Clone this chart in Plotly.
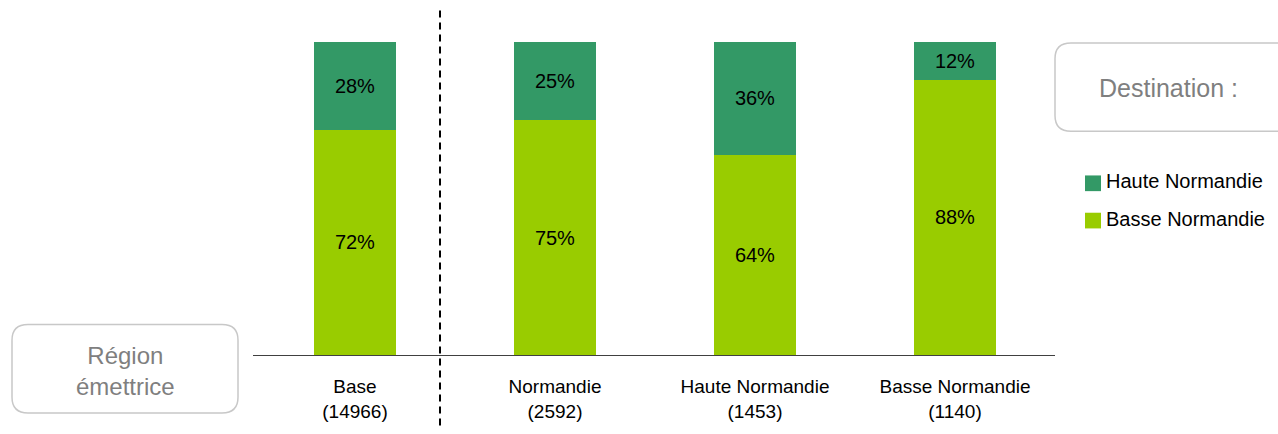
import plotly.graph_objects as go

categories = ["Base<br>(14966)", "Normandie<br>(2592)", "Haute Normandie<br>(1453)", "Basse Normandie<br>(1140)"]
basse = [72, 75, 64, 88]
haute = [28, 25, 36, 12]

DARK = "#339966"
LIGHT = "#99CC00"
GREY_TEXT = "#7F7F7F"

fig = go.Figure()

# stacked bars: Basse Normandie at the bottom
fig.add_trace(go.Bar(
    x=categories, y=basse, name="Basse Normandie",
    marker=dict(color=LIGHT, line=dict(width=0)),
    width=0.41,
    text=[f"{v}%" for v in basse], textposition="inside",
    insidetextanchor="middle", textfont=dict(color="black", size=20),
))
fig.add_trace(go.Bar(
    x=categories, y=haute, name="Haute Normandie",
    marker=dict(color=DARK, line=dict(width=0)),
    width=0.41,
    text=[f"{v}%" for v in haute], textposition="inside",
    insidetextanchor="middle", textfont=dict(color="black", size=20),
))

# plot area in page pixels: x 253..1055, y 42..361
def px(x):
    return (x - 253) / 802


def py(y):
    return (361 - y) / 319


def rounded_rect(x0, y0, x1, y1, r):
    # coordinates in page pixels, converted to paper
    rx, ry = r / 802, r / 319
    X0, X1 = px(x0), px(x1)
    Y0, Y1 = py(y1), py(y0)  # bottom, top
    return (f"M {X0+rx},{Y0} L {X1-rx},{Y0} Q {X1},{Y0} {X1},{Y0+ry} "
            f"L {X1},{Y1-ry} Q {X1},{Y1} {X1-rx},{Y1} L {X0+rx},{Y1} "
            f"Q {X0},{Y1} {X0},{Y1-ry} L {X0},{Y0+ry} Q {X0},{Y0} {X0+rx},{Y0} Z")


box_line = dict(color="#C8C8C8", width=1.5)

shapes = [
    dict(type="line", xref="x", yref="paper", x0=0.425, x1=0.425, y0=py(10), y1=py(434),
         line=dict(color="black", width=2, dash="7px,5px")),
    dict(type="path", xref="paper", yref="paper", line=box_line,
         path=rounded_rect(1055, 43, 1295, 133, 16)),
    dict(type="path", xref="paper", yref="paper", line=box_line,
         path=rounded_rect(12, 330, 238, 420, 16)),
    # legend swatches
    dict(type="rect", xref="paper", yref="paper", line=dict(width=0), fillcolor=DARK,
         x0=px(1085), x1=px(1101), y0=py(194), y1=py(178)),
    dict(type="rect", xref="paper", yref="paper", line=dict(width=0), fillcolor=LIGHT,
         x0=px(1085), x1=px(1101), y0=py(232), y1=py(216)),
]

annotations = [
    dict(text="Destination :", xref="paper", yref="paper", x=px(1168), y=py(89),
         xanchor="center", yanchor="middle", showarrow=False,
         font=dict(size=25, color=GREY_TEXT)),
    dict(text="Région<br>émettrice", xref="paper", yref="paper", x=px(125), y=py(377),
         xanchor="center", yanchor="middle", showarrow=False,
         font=dict(size=24, color=GREY_TEXT)),
    dict(text="Haute Normandie", xref="paper", yref="paper", x=px(1104), y=py(184),
         xanchor="left", yanchor="middle", showarrow=False, font=dict(size=20)),
    dict(text="Basse Normandie", xref="paper", yref="paper", x=px(1104), y=py(222),
         xanchor="left", yanchor="middle", showarrow=False, font=dict(size=20)),
]

fig.update_layout(
    width=1278, height=434,
    margin=dict(l=253, r=223, t=42, b=73),
    barmode="stack",
    plot_bgcolor="white", paper_bgcolor="white",
    font=dict(family="Liberation Sans, Arial, sans-serif", size=16, color="black"),
    xaxis=dict(range=[-0.51, 3.5], showline=True, linecolor="#404040", linewidth=1,
               showgrid=False, zeroline=False, ticks="", tickfont=dict(size=19),
               ticklabelstandoff=14),
    yaxis=dict(range=[0, 100], visible=False),
    showlegend=False,
    shapes=shapes,
    annotations=annotations,
)

# drop the default 8px body margin so the figure fills the window exactly
fig.write_html("out.html", config={"displayModeBar": False},
               post_script="document.body.style.margin='0';")
